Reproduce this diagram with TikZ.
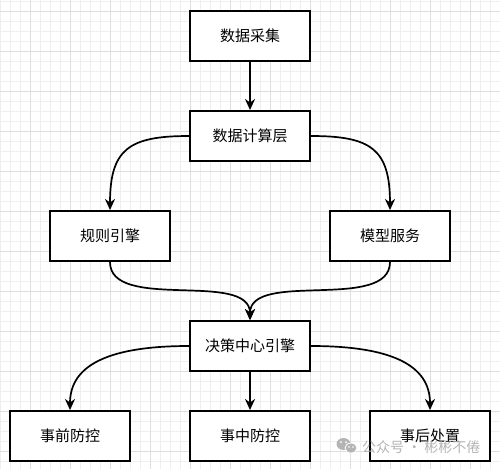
\documentclass[tikz,border=0pt]{standalone}
\usepackage{fontspec}
\newfontfamily\cjk{Noto Sans CJK SC}
\usetikzlibrary{arrows.meta}
\definecolor{gridminor}{HTML}{EFEFEF}
\definecolor{gridmajor}{HTML}{DEDEDE}
\definecolor{wmgray}{HTML}{B4B4B4}
\tikzset{
  box/.style={draw=black, line width=2pt, fill=white, minimum width=120pt, minimum height=50pt,
    inner sep=0pt, font=\cjk\fontsize{15pt}{18pt}\selectfont},
  conn/.style={draw=black, line width=1.7pt, -{Stealth[length=11pt,width=10pt,inset=3.5pt]}},
  wm/.style={text=wmgray, font=\cjk\fontsize{14pt}{16pt}\selectfont, inner sep=0pt},
}
\begin{document}
\begin{tikzpicture}[x=1pt,y=-1pt]
\useasboundingbox (0,0) rectangle (500,469);
\fill[white] (0,0) rectangle (500,469);
% grid
\foreach \x in {0,10,...,500} \draw[gridminor, line width=1pt] (\x,0) -- (\x,469);
\foreach \y in {1,11,...,469} \draw[gridminor, line width=1pt] (0,\y) -- (500,\y);
\foreach \x in {30,70,...,490} \draw[gridmajor, line width=1pt] (\x,0) -- (\x,469);
\foreach \y in {11,51,...,469} \draw[gridmajor, line width=1pt] (0,\y) -- (500,\y);
% nodes
\node[box] (cj) at (250,36) {数据采集};
\node[box] (js) at (250,136) {数据计算层};
\node[box] (gz) at (110,236) {规则引擎};
\node[box] (mx) at (390,236) {模型服务};
\node[box] (jc) at (250,346) {决策中心引擎};
\node[box] (sq) at (70,436) {事前防控};
\node[box] (sz) at (250,436) {事中防控};
\node[box] (sh) at (430,436) {事后处置};
% connectors
\draw[conn] (cj.south) -- (js.north);
\draw[conn] (js.west) .. controls ([xshift=-60pt]js.west) and ([yshift=61pt]gz.north) .. (gz.north);
\draw[conn] (js.east) .. controls ([xshift=60pt]js.east) and ([yshift=61pt]mx.north) .. (mx.north);
\draw[conn] (gz.south) .. controls ([yshift=-50pt]gz.south) and ([yshift=50pt]jc.north) .. (jc.north);
\draw[conn] (mx.south) .. controls ([yshift=-50pt]mx.south) and ([yshift=50pt]jc.north) .. (jc.north);
\draw[conn] (jc.west) .. controls ([xshift=-80pt]jc.west) and ([yshift=45pt]sq.north) .. (sq.north);
\draw[conn] (jc.south) -- (sz.north);
\draw[conn] (jc.east) .. controls ([xshift=80pt]jc.east) and ([yshift=45pt]sh.north) .. (sh.north);
% watermark
\fill[wmgray] (343.5,444) ellipse (7pt and 6pt);
\fill[wmgray, draw=white, line width=0.8pt] (351,448) ellipse (6pt and 5pt);
\fill[white] (341,442) circle (1pt) (346,442) circle (1pt) (349,447) circle (0.8pt) (353,447) circle (0.8pt);
\node[wm, anchor=west] (wmtext) at (362,447) {公众号 · 彬彬不倦};
\end{tikzpicture}
\end{document}
